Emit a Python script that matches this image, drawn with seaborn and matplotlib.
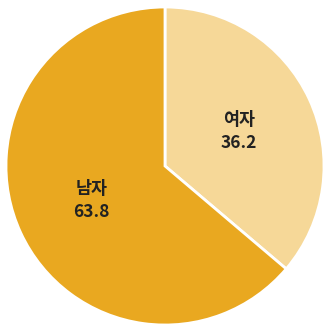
import matplotlib
matplotlib.use("Agg")
import matplotlib.pyplot as plt
import seaborn as sns

# data
genders = ["여자", "남자"]
shares = [36.2, 63.8]
colors = ["#F6D898", "#E9A820"]

sns.set_theme(style="white")
plt.rcParams['font.family'] = ['Noto Sans CJK KR', 'DejaVu Sans']

fig = plt.figure(figsize=(3.23, 3.27), dpi=100)
ax = fig.add_axes([6 / 323, 2 / 327, 318 / 323, 318 / 327])

labels = [f"{g}\n{v:.1f}" for g, v in zip(genders, shares)]
wedges, texts = ax.pie(
    shares,
    labels=labels,
    colors=colors,
    startangle=90,
    counterclock=False,
    labeldistance=0.51,
    wedgeprops=dict(edgecolor="white", linewidth=2),
    textprops=dict(ha="center", va="center", fontsize=12.5,
                   fontweight="bold", color="#222222", linespacing=1.35),
)
ax.set_xlim(-1, 1)
ax.set_ylim(-1, 1)
ax.set_aspect("equal")
ax.axis("off")

fig.savefig("out.png", dpi=100)
